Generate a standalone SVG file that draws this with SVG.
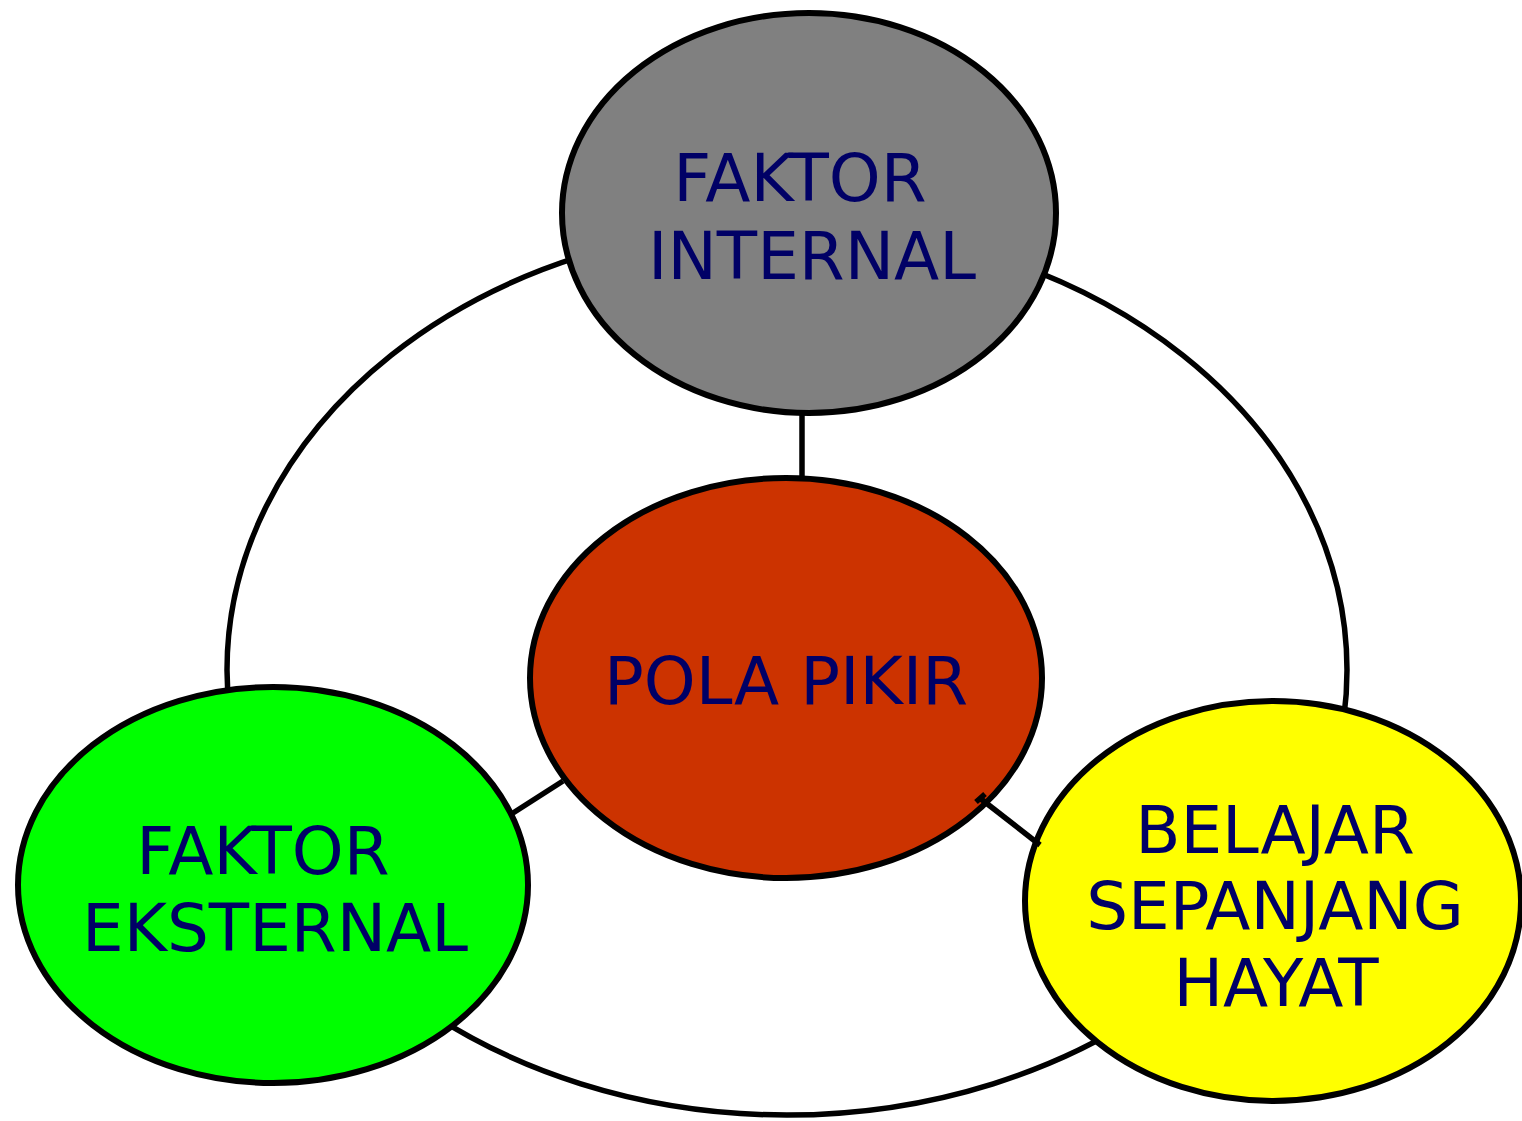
<svg xmlns="http://www.w3.org/2000/svg" width="1522" height="1121" viewBox="0 0 1522 1121">
<style>
.n{stroke:#000;stroke-width:6}
.c{stroke:#000;stroke-width:5.5;fill:none}
text{font-family:"DejaVu Sans",sans-serif;font-size:66px;fill:#000066;text-anchor:middle}
</style>
<rect width="1522" height="1121" fill="#fff"/>
<g id="ring"><ellipse class="c" cx="787" cy="670" rx="560" ry="445"/></g>
<g id="internal"><ellipse class="n" cx="809" cy="213" rx="247" ry="200" fill="#808080"/><text x="800" y="201">FAKTOR</text><text x="812" y="279">INTERNAL</text></g>
<g id="pola"><ellipse class="n" cx="786" cy="678" rx="256" ry="200" fill="#CC3300"/><text x="786" y="704">POLA PIKIR</text></g>
<g id="eksternal"><ellipse class="n" cx="273" cy="885" rx="255" ry="198" fill="#00FF00"/><text x="263" y="874">FAKTOR</text><text x="275" y="951">EKSTERNAL</text></g>
<g id="belajar"><ellipse class="n" cx="1273" cy="901" rx="248" ry="200" fill="#FFFF00"/><text x="1275" y="853">BELAJAR</text><text x="1275" y="929">SEPANJANG</text><text x="1276" y="1006">HAYAT</text></g>
<g id="connectors">
<line class="c" x1="802" y1="413" x2="802" y2="478"/>
<line class="c" x1="513" y1="813" x2="563" y2="781"/>
<line class="c" x1="981" y1="799" x2="1040" y2="845"/>
<line class="c" x1="976" y1="802" x2="985" y2="794"/>
</g>
</svg>
